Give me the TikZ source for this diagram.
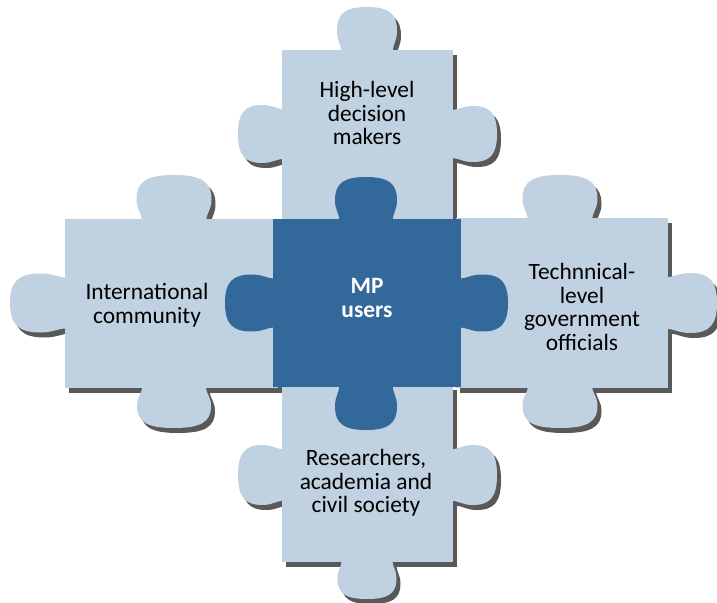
\documentclass[tikz,border=0pt]{standalone}
\usepackage{fontspec}
\setmainfont{Carlito}

\definecolor{pieceLight}{HTML}{C0D2E1}
\definecolor{pieceDark}{HTML}{33699A}
\definecolor{pieceShade}{HTML}{595959}

% knob on a horizontal edge: style, centre x, edge y, width, height (signed)
\newcommand\vknob[5]{\fill[#1] ({#2-0.43*#4},{#3-0.05*(#5)}) .. controls ({#2-0.43*#4},{#3+0.15*(#5)}) and ({#2-0.5*#4},{#3+0.2*(#5)}) .. ({#2-0.5*#4},{#3+0.45*(#5)})
	.. controls ({#2-0.5*#4},{#3+0.85*(#5)}) and ({#2-0.36*#4},{#3+(#5)}) .. ({#2},{#3+(#5)})
	.. controls ({#2+0.36*#4},{#3+(#5)}) and ({#2+0.5*#4},{#3+0.85*(#5)}) .. ({#2+0.5*#4},{#3+0.45*(#5)})
	.. controls ({#2+0.5*#4},{#3+0.2*(#5)}) and ({#2+0.43*#4},{#3+0.15*(#5)}) .. ({#2+0.43*#4},{#3-0.05*(#5)}) -- cycle;}
% knob on a vertical edge: style, edge x, centre y, width, height (signed)
\newcommand\hknob[5]{\fill[#1] ({#2-0.05*(#5)},{#3-0.43*#4}) .. controls ({#2+0.15*(#5)},{#3-0.43*#4}) and ({#2+0.2*(#5)},{#3-0.5*#4}) .. ({#2+0.45*(#5)},{#3-0.5*#4})
	.. controls ({#2+0.85*(#5)},{#3-0.5*#4}) and ({#2+(#5)},{#3-0.36*#4}) .. ({#2+(#5)},{#3})
	.. controls ({#2+(#5)},{#3+0.36*#4}) and ({#2+0.85*(#5)},{#3+0.5*#4}) .. ({#2+0.45*(#5)},{#3+0.5*#4})
	.. controls ({#2+0.2*(#5)},{#3+0.5*#4}) and ({#2+0.15*(#5)},{#3+0.43*#4}) .. ({#2-0.05*(#5)},{#3+0.43*#4}) -- cycle;}

\begin{document}
\begin{tikzpicture}[x=1bp,y=-1bp,
	lightpiece/.style={fill=pieceLight},
	darkpiece/.style={fill=pieceDark},
	castshadow/.style={fill=pieceShade,shift={(4,5)}},
	piecetext/.style={align=center,font=\fontsize{23.5}{23.7}\selectfont}]

	\useasboundingbox (0,0) rectangle (717,603);

	\foreach \sty in {castshadow,lightpiece}{
		% top piece
		\fill[\sty] (282,50) rectangle (453,221);
		\vknob{\sty}{367}{50}{60}{-43}
		\hknob{\sty}{282}{134}{58}{-44}
		\hknob{\sty}{453}{134}{56}{44}
		% left piece
		\fill[\sty] (65,219) rectangle (278,388);
		\vknob{\sty}{174}{219}{75}{-44}
		\hknob{\sty}{65}{303}{59}{-55}
		\vknob{\sty}{174}{388}{74}{40}
		% right piece
		\fill[\sty] (456,218) rectangle (668,388);
		\vknob{\sty}{560}{218}{75}{-43}
		\hknob{\sty}{668}{303}{60}{49}
		\vknob{\sty}{560}{388}{75}{40}
		% bottom piece
		\fill[\sty] (282,385) rectangle (453,562);
		\hknob{\sty}{282}{475}{60}{-44}
		\hknob{\sty}{453}{475}{60}{44}
		\vknob{\sty}{367}{562}{59}{37}
	}

	% centre piece
	\fill[darkpiece] (273,219) rectangle (461,387);
	\vknob{darkpiece}{366}{219}{62}{-42}
	\hknob{darkpiece}{273}{303}{57}{-48}
	\hknob{darkpiece}{461}{303}{57}{47}
	\vknob{darkpiece}{366}{387}{62}{43}

	\node (makers) at (367,113) [piecetext] {High-level\\decision\\makers};
	\node (intl) at (147,305) [piecetext] {International\\community};
	\node (users) at (367,298) [piecetext,text=white,font=\fontsize{23.5}{23.7}\selectfont\bfseries] {MP\\users};
	\node (officials) at (582,307) [piecetext] {Technnical-\\level\\government\\officials};
	\node (research) at (366,483) [piecetext] {Researchers,\\academia and\\civil society};
\end{tikzpicture}
\end{document}
